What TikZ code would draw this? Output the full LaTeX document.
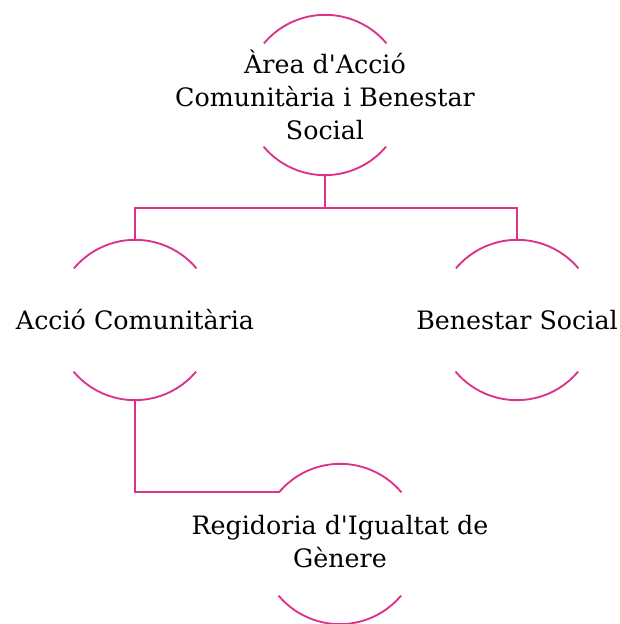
\documentclass[tikz,border=0pt]{standalone}
\usepackage{fontspec}
\setmainfont{DejaVu Serif}
\usepackage{tikz}

\definecolor{orgpink}{RGB}{220,50,140}

\tikzset{
  unit/.style={circle,inner sep=0pt,minimum size=120pt},
  unitlabel/.style={align=center,font=\fontsize{19}{25}\selectfont},
  arcline/.style={orgpink,line width=1.4pt},
  link/.style={orgpink,line width=1.4pt}
}

\begin{document}
\begin{tikzpicture}[x=0.75pt,y=0.75pt]
%\draw[step=20,gray,very thin] (0,0) grid (619,624);
\useasboundingbox (0,0) rectangle (619,624);

% units

\node[unit] (area) at (325,529) {};
\node[unitlabel] (areatext) at (area) {Àrea d\textquotesingle Acció\\Comunitària i Benestar\\Social};

\node[unit] (accio) at (135,304) {};
\node[unitlabel] (acciotext) at (accio) {Acció Comunitària};

\node[unit] (benestar) at (517,304) {};
\node[unitlabel] (benestartext) at (benestar) {Benestar Social};

\node[unit] (igualtat) at (340,80) {};
\node[unitlabel] (igualtattext) at ([yshift=2]igualtat) {Regidoria d\textquotesingle Igualtat de\\Gènere};

% upper and lower arcs

\foreach \u in {area,accio,benestar,igualtat}
{
  \draw[arcline] (\u.40) arc[start angle=40,end angle=140,radius=80];
  \draw[arcline] (\u.220) arc[start angle=220,end angle=320,radius=80];
}

% links

\draw[link] (area.south) -- ++(0,-33) coordinate (bus);
\draw[link] (bus) -| (accio.north);
\draw[link] (bus) -| (benestar.north);
\draw[link] (accio.south) |- (igualtat.140);

\end{tikzpicture}
\end{document}
